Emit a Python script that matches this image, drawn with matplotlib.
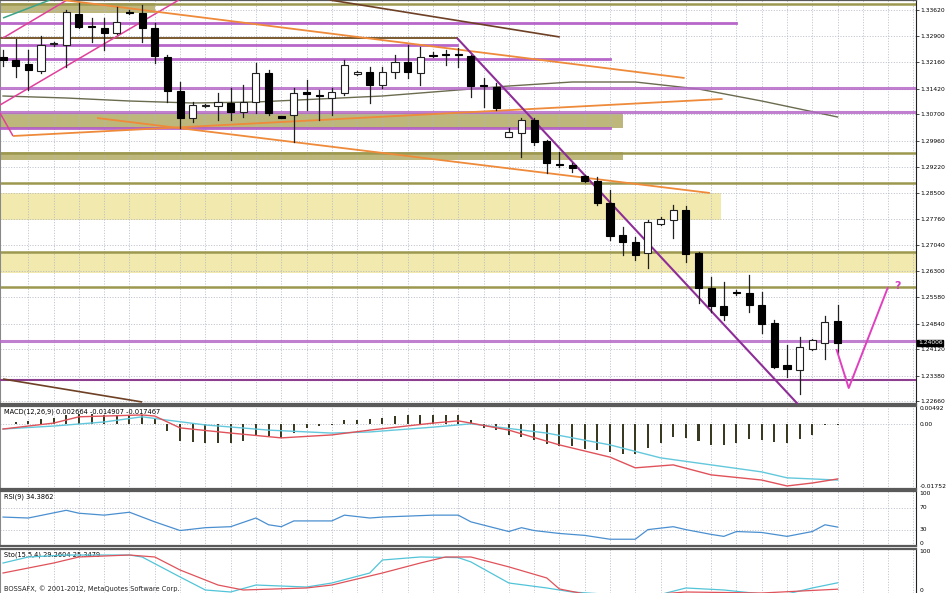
import matplotlib
matplotlib.use('Agg')
import matplotlib.pyplot as plt
from matplotlib.patches import Rectangle

# ---------------- data ----------------
opens = [1.32304, 1.32220, 1.32108, 1.31912, 1.32668, 1.32640, 1.33508, 1.33172, 1.33116, 1.32976,
         1.33564, 1.33536, 1.33116, 1.32304, 1.31352, 1.30596, 1.30932, 1.30932, 1.31016, 1.30764,
         1.31044, 1.31856, 1.30638, 1.30680, 1.31324, 1.31240, 1.31156, 1.31296, 1.31828, 1.31884,
         1.31520, 1.31884, 1.32164, 1.31856, 1.32360, 1.32388, 1.32388, 1.32332, 1.31520, 1.31464,
         1.30064, 1.30176, 1.30540, 1.29952, 1.29308, 1.29280, 1.28972, 1.28832, 1.28216, 1.27320,
         1.27124, 1.26816, 1.27628, 1.27740, 1.28020, 1.26816, 1.25836, 1.25332, 1.25724, 1.25696,
         1.25360, 1.24856, 1.23680, 1.23540, 1.24128, 1.24296, 1.24912]
highs = [1.32500, 1.32808, 1.32500, 1.32892, 1.32724, 1.33620, 1.33816, 1.33396, 1.33396, 1.33704,
         1.33620, 1.33760, 1.33256, 1.32360, 1.31604, 1.31044, 1.30988, 1.31296, 1.31436, 1.31520,
         1.32136, 1.31940, 1.30652, 1.31436, 1.31660, 1.31380, 1.31436, 1.32220, 1.31912, 1.32024,
         1.32024, 1.32360, 1.32640, 1.32584, 1.32444, 1.32500, 1.32556, 1.32360, 1.31716, 1.31576,
         1.30316, 1.30596, 1.30596, 1.29980, 1.29644, 1.29336, 1.29000, 1.28944, 1.28580, 1.27544,
         1.27264, 1.27740, 1.27824, 1.28160, 1.28132, 1.26844, 1.26144, 1.26004, 1.25780, 1.26200,
         1.25724, 1.24940, 1.24240, 1.24464, 1.24408, 1.25052, 1.25360]
lows = [1.32052, 1.31744, 1.31380, 1.31856, 1.32612, 1.32024, 1.33116, 1.32724, 1.32500, 1.32948,
        1.33508, 1.32724, 1.32136, 1.31044, 1.30316, 1.30484, 1.30904, 1.30540, 1.30540, 1.30624,
        1.30736, 1.30680, 1.30596, 1.29924, 1.30820, 1.30540, 1.30680, 1.31240, 1.31800, 1.31016,
        1.31436, 1.31716, 1.31716, 1.31520, 1.32304, 1.32080, 1.32024, 1.31184, 1.30904, 1.30820,
        1.30064, 1.29504, 1.29840, 1.29056, 1.29224, 1.29084, 1.28804, 1.28160, 1.27180, 1.26760,
        1.26620, 1.26396, 1.27600, 1.27236, 1.26564, 1.25416, 1.25164, 1.24940, 1.25640, 1.25164,
        1.24576, 1.23596, 1.23344, 1.22868, 1.24100, 1.23848, 1.24016]
closes = [1.32220, 1.32052, 1.31940, 1.32640, 1.32696, 1.33564, 1.33144, 1.33144, 1.32976, 1.33284,
          1.33536, 1.33116, 1.32332, 1.31352, 1.30596, 1.30960, 1.30960, 1.31044, 1.30764, 1.31044,
          1.31856, 1.30736, 1.30610, 1.31296, 1.31268, 1.31212, 1.31324, 1.32080, 1.31884, 1.31520,
          1.31884, 1.32164, 1.31884, 1.32304, 1.32332, 1.32360, 1.32360, 1.31492, 1.31492, 1.30876,
          1.30204, 1.30540, 1.29924, 1.29336, 1.29280, 1.29196, 1.28832, 1.28216, 1.27292, 1.27124,
          1.26760, 1.27684, 1.27768, 1.28020, 1.26788, 1.25836, 1.25332, 1.25080, 1.25696, 1.25360,
          1.24828, 1.23624, 1.23568, 1.24184, 1.24380, 1.24884, 1.24296]

price_ticks = [1.33620, 1.32900, 1.32160, 1.31420, 1.30700, 1.29960, 1.29220, 1.28500,
               1.27760, 1.27040, 1.26300, 1.25580, 1.24840, 1.24120, 1.23380, 1.22660]
price_tick_labels = ['1.33620', '1.32900', '1.32160', '1.31420', '1.30700', '1.29960', '1.29220', '1.28500',
                     '1.27760', '1.27040', '1.26300', '1.25580', '1.24840', '1.24120', '1.23380', '1.22660']
last_price_label = '1.24006'

# moving average (sparse readings)
ma_idx = [0, 5, 10, 15, 20, 25, 30, 35, 40, 45, 50, 55, 60, 66]
ma_val = [1.31212, 1.31156, 1.31072, 1.31016, 1.31044, 1.31128, 1.31212, 1.31352, 1.31492,
          1.31604, 1.31604, 1.31408, 1.31072, 1.30624]

# horizontal levels
purple_full = [1.31436, 1.30764, 1.24352]
purple_dark_full = [1.23260]
olive_full = [1.33788, 1.29616, 1.28776, 1.26844, 1.25864]
purple_partial = [(1.33256, 58.0), (1.32640, 35.9), (1.32248, 48.0), (1.30316, 48.0)]
brown_partial = [(1.32836, 35.9)]
olive_zones = [(1.33536, 1.33816, 12.0), (1.30316, 1.30736, 49.0), (1.29420, 1.29644, 49.0)]
yellow_zones = [(1.27740, 1.28496, 56.8), (1.26256, 1.26844, 80.0)]

# trend lines: (i0, p0, i1, p1)
magenta_lines = [(-0.24, 1.30960, 13.9, 1.33900), (0.0, 1.32836, 5.06, 1.33900), (-0.24, 1.30736, 0.79, 1.30092)]
teal_lines = [(0.0, 1.33396, 3.7, 1.33900)]
orange_lines = [(4.74, 1.33900, 53.9, 1.31716), (0.79, 1.30092, 56.9, 1.31128), (7.43, 1.30596, 55.9, 1.28496)]
brown_lines = [(25.85, 1.33900, 44.03, 1.32864), (0.0, 1.23288, 11.0, 1.22644)]
purple_trend = [(35.9, 1.32836, 62.85, 1.22588)]
v_idx = [65.93, 66.88, 69.96]
v_val = [1.24100, 1.23036, 1.25836]
q_pos = (70.75, 1.25892)

# MACD
macd_hist = [0, 0.00054, 0.00081, 0.00135, 0.00162, 0.00243, 0.0027, 0.0027, 0.00243, 0.00243,
             0.00243, 0.00243, 0.00162, -0.00189, -0.00459, -0.00486, -0.00513, -0.00513, -0.00513, -0.00459,
             -0.00324, -0.00324, -0.00378, -0.00243, -0.00108, -0.00054, -0.00027, 0.00108, 0.00108, 0.00135,
             0.00162, 0.00216, 0.00243, 0.00243, 0.00243, 0.00243, 0.00243, 0.00108, -0.00108, -0.00162,
             -0.00297, -0.00351, -0.00432, -0.0054, -0.00594, -0.00594, -0.00675, -0.00702, -0.00756, -0.0081,
             -0.0081, -0.00648, -0.00513, -0.00351, -0.00378, -0.00459, -0.00567, -0.00567, -0.00513, -0.00405,
             -0.00432, -0.00486, -0.00513, -0.00405, -0.00297, -0.00027, -0.0001]
macd_red_idx = [0, 4, 6, 11, 12, 14, 18, 22, 26, 29, 34, 36, 37, 40, 44, 48, 50, 53, 56, 60, 62, 64, 66]
macd_red_val = [-0.0013, 0.0003, 0.0020, 0.0025, 0.0022, -0.0010, -0.0024, -0.0037, -0.0029, -0.0016,
                0.0003, 0.0009, 0.0003, -0.0016, -0.0056, -0.0089, -0.0118, -0.0110, -0.0137, -0.0151,
                -0.0167, -0.0159, -0.0148]
macd_cyan_idx = [0, 4, 8, 11, 13, 16, 21, 26, 29, 34, 37, 43, 48, 52, 56, 60, 62, 66]
macd_cyan_val = [-0.0013, -0.0005, 0.0006, 0.0020, 0.0011, -0.0002, -0.0016, -0.0024, -0.0021, -0.0008,
                 0.0001, -0.0024, -0.0056, -0.0091, -0.0110, -0.0129, -0.0145, -0.0151]
macd_title = 'MACD(12,26,9) 0.002664 -0.014907 -0.017467'

# RSI
rsi_idx = [0, 2, 5, 6, 8, 10, 12, 14, 16, 18, 20, 21, 22, 23, 26, 27, 29, 30, 34, 36, 37, 40, 41, 42,
           44, 46, 48, 50, 51, 53, 54, 56, 57, 58, 60, 62, 64, 65, 66]
rsi_val = [52.6, 50.9, 64.9, 59.6, 56.1, 61.4, 43.9, 28.1, 33.3, 35.1, 50.9, 38.6, 35.1, 45.6, 45.6, 56.1,
           50.9, 52.6, 56.1, 56.1, 43.9, 26.3, 33.3, 28.1, 22.8, 19.3, 12.3, 12.3, 29.8, 35.1, 29.8, 21.1,
           17.5, 26.3, 24.6, 17.5, 26.3, 38.6, 34.4]
rsi_title = 'RSI(9) 34.3862'

# Stochastic
sto_main_idx = [0, 2, 5, 10, 11, 14, 16, 18, 20, 24, 26, 29, 30, 33, 36, 37, 40, 43, 45, 48, 52, 54, 57, 60, 62, 64, 66]
sto_main_val = [70.7, 83.3, 87.4, 87.4, 83.3, 41.5, 14.3, 10.1, 24.7, 20.5, 28.9, 49.8, 77.0, 83.3, 82.0, 73.0,
                28.9, 18.5, 10.1, 5.0, 5.0, 18.5, 14.3, 6.0, 6.0, 18.5, 29.3]
sto_sig_idx = [0, 4, 6, 10, 12, 14, 17, 19, 24, 26, 30, 33, 35, 37, 40, 43, 44, 46, 52, 54, 60, 66]
sto_sig_val = [49.8, 70.7, 83.3, 87.4, 83.3, 56.1, 24.7, 14.3, 18.5, 24.7, 49.8, 70.7, 83.3, 83.3, 62.6, 39.4,
               16.4, 6.0, 6.0, 10.1, 8.0, 16.0]
sto_title = 'Sto(15,5,4) 29.2604 25.3479'
copyright_text = 'BOSSAFX, \u00a9 2001-2012, MetaQuotes Software Corp.'

# ---------------- figure ----------------
W, H = 948, 593
fig = plt.figure(figsize=(W / 100, H / 100), dpi=100)
fig.patch.set_facecolor('white')

XR = 916 / W
def ax_rect(top_px, bot_px):
    return [0.0, 1 - bot_px / H, XR, (bot_px - top_px) / H]

ax = fig.add_axes(ax_rect(0, 404))
axm = fig.add_axes(ax_rect(406, 489))
axr = fig.add_axes(ax_rect(491, 546))
axs = fig.add_axes(ax_rect(549, 593))

LFS = 4.3
XMIN, XMAX = -0.24, 72.2
grid_kw = dict(color='#aeb5c4', lw=0.6, ls=(0, (1.2, 2.0)), zorder=1)
sep_color = '#5a5a5a'

for a in (ax, axm, axr, axs):
    a.set_xlim(XMIN, XMAX)
    a.set_xticks([])
    a.set_facecolor('white')
    for k in range(2, 73, 2):
        a.axvline(k, **grid_kw)
    a.yaxis.tick_right()
    a.tick_params(axis='y', labelsize=LFS, length=2, width=0.5, pad=1.0, colors='black')
    a.spines['left'].set_color('#888888')
    a.spines['left'].set_linewidth(1.5)
    a.spines['right'].set_color('#222222')
    a.spines['right'].set_linewidth(0.8)
    a.spines['top'].set_color(sep_color)
    a.spines['top'].set_linewidth(1.6)
    a.spines['bottom'].set_color(sep_color)
    a.spines['bottom'].set_linewidth(1.6)

# ---- main panel ----
ax.set_ylim(1.22588, 1.33900)
ax.set_yticks(price_ticks)
ax.set_yticklabels(price_tick_labels)
for p in price_ticks:
    ax.axhline(p, **grid_kw)

for (lo, hi, xe) in olive_zones:
    ax.add_patch(Rectangle((XMIN, lo), xe - XMIN, hi - lo, facecolor='#bdb77c', edgecolor='none', zorder=0.5))
for (lo, hi, xe) in yellow_zones:
    ax.add_patch(Rectangle((XMIN, lo), xe - XMIN, hi - lo, facecolor='#f1e9ad', edgecolor='none', zorder=0.5))

for p in olive_full:
    ax.axhline(p, color='#9d9850', lw=1.8, zorder=2)
for p in purple_full:
    ax.axhline(p, color='#b56ac7', lw=2.2, alpha=0.85, zorder=4)
for p in purple_dark_full:
    ax.axhline(p, color='#8c3f8e', lw=1.5, zorder=4)
for (p, xe) in purple_partial:
    ax.plot([XMIN, xe], [p, p], color='#b056c3', lw=2.0, alpha=0.9, zorder=4)
for (p, xe) in brown_partial:
    ax.plot([XMIN, xe], [p, p], color='#7a5a30', lw=1.4, zorder=4)

ax.plot(ma_idx, ma_val, color='#6b6b4f', lw=1.0, zorder=3)

def seg(lines, color, lw, z=5):
    for (i0, p0, i1, p1) in lines:
        ax.plot([i0, i1], [p0, p1], color=color, lw=lw, zorder=z, solid_capstyle='butt')

seg(magenta_lines, '#e0409a', 1.1)
seg(teal_lines, '#3aa38a', 1.1)
seg(orange_lines, '#ee8a3a', 1.3)
seg(brown_lines, '#6e4025', 1.2)
seg(purple_trend, '#8e2d98', 1.5)

# candles
bw = 0.56
for i, (o, h, l, c) in enumerate(zip(opens, highs, lows, closes)):
    ax.plot([i, i], [l, h], color='#202020', lw=0.9, zorder=6)
    bot, top = min(o, c), max(o, c)
    hgt = max(top - bot, 0.00012)
    if c >= o:
        ax.add_patch(Rectangle((i - bw / 2, bot), bw, hgt, facecolor='white', edgecolor='#202020', lw=0.8, zorder=7))
    else:
        ax.add_patch(Rectangle((i - bw / 2, bot), bw, hgt, facecolor='black', edgecolor='black', lw=0.8, zorder=7))

ax.plot(v_idx, v_val, color='#e040c0', lw=1.4, zorder=8)
ax.text(q_pos[0], q_pos[1], '?', color='#d43fc4', fontsize=8, fontweight='bold', ha='center', va='center', zorder=9)

ax.text(1.002, closes[-1], last_price_label, transform=ax.get_yaxis_transform(), fontsize=LFS, color='white',
        va='center', ha='left', bbox=dict(facecolor='black', edgecolor='black', pad=0.6), zorder=10, clip_on=False)

# ---- MACD ----
mtop, mbot = 0.00492, -0.01752
axm.set_ylim(mbot, mtop)
axm.set_yticks([])
axm.axhline(0, **grid_kw)
axm.bar(range(len(macd_hist)), macd_hist, width=0.16, color='#3a3a22', zorder=3)
axm.plot(macd_cyan_idx, macd_cyan_val, color='#63c8dc', lw=1.0, zorder=4)
axm.plot(macd_red_idx, macd_red_val, color='#e0525a', lw=1.0, zorder=4)
yt = axm.get_yaxis_transform()
axm.text(1.004, mtop, '0.00492', transform=yt, fontsize=LFS, va='top', ha='left')
axm.text(1.004, 0, '0.00', transform=yt, fontsize=LFS, va='center', ha='left')
axm.text(1.004, mbot, '-0.01752', transform=yt, fontsize=LFS, va='bottom', ha='left')
axm.text(0.004, 0.97, macd_title, transform=axm.transAxes, fontsize=4.8, va='top', ha='left')

# ---- RSI ----
axr.set_ylim(0, 100)
axr.set_yticks([])
for lv in (70, 30):
    axr.axhline(lv, **grid_kw)
axr.plot(rsi_idx, rsi_val, color='#4a8fd0', lw=0.9, zorder=4)
yt = axr.get_yaxis_transform()
axr.text(1.004, 100, '100', transform=yt, fontsize=LFS, va='top', ha='left')
axr.text(1.004, 70, '70', transform=yt, fontsize=LFS, va='center', ha='left')
axr.text(1.004, 30, '30', transform=yt, fontsize=LFS, va='center', ha='left')
axr.text(1.004, 0, '0', transform=yt, fontsize=LFS, va='bottom', ha='left')
axr.text(0.004, 0.95, rsi_title, transform=axr.transAxes, fontsize=4.8, va='top', ha='left')

# ---- Stochastic ----
axs.set_ylim(8, 100)
axs.set_yticks([])
axs.spines['bottom'].set_visible(False)
axs.plot(sto_main_idx, sto_main_val, color='#52c4d8', lw=0.9, zorder=4)
axs.plot(sto_sig_idx, sto_sig_val, color='#e0525a', lw=0.9, zorder=4)
yt = axs.get_yaxis_transform()
axs.text(1.004, 100, '100', transform=yt, fontsize=LFS, va='top', ha='left')
axs.text(1.004, 8, '0', transform=yt, fontsize=LFS, va='bottom', ha='left')
axs.text(0.004, 0.95, sto_title, transform=axs.transAxes, fontsize=4.8, va='top', ha='left')
axs.text(0.004, 0.02, copyright_text, transform=axs.transAxes, fontsize=4.8, va='bottom', ha='left', color='#222222')

fig.savefig('out.png', dpi=100, facecolor='white')
